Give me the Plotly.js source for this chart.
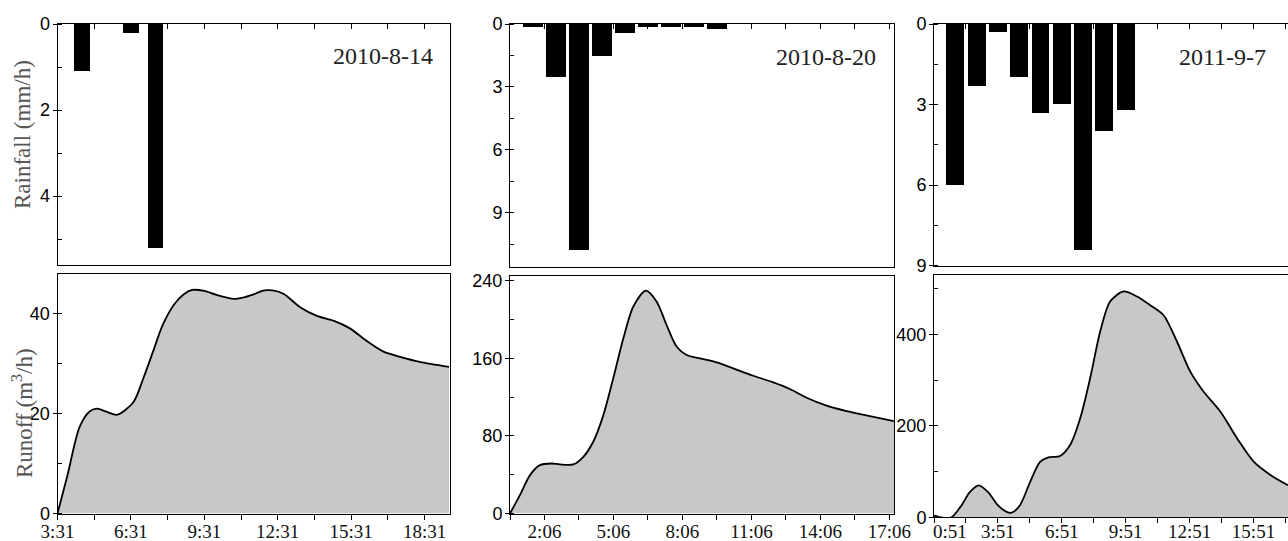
<!DOCTYPE html>
<html><head><meta charset="utf-8">
<script src="https://cdn.plot.ly/plotly-3.0.1.min.js"></script>
<style>html,body{margin:0;padding:0;background:#fff}</style>
</head><body><div id="chart" style="width:1288px;height:541px"></div>
<script>
// Event dates
const events = ['2010-8-14', '2010-8-20', '2011-9-7'];

// Rainfall intensity (mm/h), time in hours after the first tick of each panel
const rainT1 = [1, 3, 4];
const rain1  = [1.1, 0.2, 5.2];
const rainT2 = [1, 2, 3, 4, 5, 6, 7, 8, 9];
const rain2  = [0.13, 2.52, 10.77, 1.52, 0.45, 0.13, 0.13, 0.13, 0.26];
const rainT3 = [1, 2, 3, 4, 5, 6, 7, 8, 9];
const rain3  = [6.0, 2.3, 0.29, 1.98, 3.3, 2.99, 8.43, 4.0, 3.2];

// Runoff (m3/h)
const runT1 = [0, 0.4, 0.9, 1.3, 1.6, 2.0, 2.45, 3.1, 3.5, 3.9, 4.3, 4.75, 5.15, 5.5, 6.0, 6.5, 7.2, 7.6, 8.0, 8.45, 8.8, 9.25, 9.9, 10.6, 11.3, 11.95, 12.6, 13.3, 14.0, 14.8, 16.0];
const run1  = [0, 7.5, 17.3, 20.4, 21.0, 20.4, 19.8, 22.3, 27.0, 32.4, 37.8, 41.8, 43.9, 44.8, 44.6, 43.8, 43.0, 43.3, 43.9, 44.7, 44.7, 44.0, 41.4, 39.6, 38.6, 37.1, 34.7, 32.5, 31.4, 30.4, 29.4];
const runT2 = [0, 0.43, 0.87, 1.3, 1.81, 2.17, 2.75, 3.19, 3.62, 4.06, 4.49, 4.93, 5.36, 5.91, 6.38, 6.81, 7.25, 7.68, 8.26, 8.99, 9.71, 10.58, 11.45, 12.17, 12.9, 13.77, 14.64, 15.65, 16.7];
const run2  = [0, 18.9, 39.6, 49.9, 51.6, 50.6, 50.6, 58.5, 74, 101.5, 139.4, 180.7, 213.3, 229.9, 218.5, 194.4, 172, 163.5, 160, 155.9, 149.7, 142.1, 135.2, 128.4, 119.4, 111.2, 105.6, 100.5, 95.3];
const runT3 = [0, 0.3, 0.82, 1.29, 1.68, 2.1, 2.54, 3.01, 3.41, 3.64, 4.03, 4.51, 4.98, 5.37, 5.92, 6.39, 6.86, 7.33, 7.8, 8.27, 8.9, 9.53, 10.15, 10.78, 11.41, 12.04, 12.67, 13.45, 14.24, 15.02, 15.81, 16.62];
const run3  = [4, 0, 0, 26, 55, 70, 55, 26, 12, 10, 26, 77, 121, 131, 134, 158, 216, 304, 406, 472, 494, 483, 464, 442, 384, 318, 274, 231, 172, 121, 92, 70];

// Tick labels
const xTickPos1 = [0, 3, 6, 9, 12, 15];
const xLabels1  = ['3:31', '6:31', '9:31', '12:31', '15:31', '18:31'];
const xTickPos2 = [1.5, 4.5, 7.5, 10.5, 13.5, 16.5];
const xLabels2  = ['2:06', '5:06', '8:06', '11:06', '14:06', '17:06'];
const xTickPos3 = [0, 3, 6, 9, 12, 15];
const xLabels3  = ['0:51', '3:51', '6:51', '9:51', '12:51', '15:51'];

const W = 1288, H = 541;
const xd = (a, b) => [a / W, b / W];
const yd = (top, bot) => [1 - bot / H, 1 - top / H];

const SERIF = 'Liberation Serif, Times New Roman, serif';
const SANS = 'Liberation Sans, Arial, sans-serif';
const yTickFont = {family: SANS, size: 18, color: '#000'};
const xTickFont = {family: SERIF, size: 19, color: '#111'};

function barTrace(x, y, n, w) {
  return {type: 'bar', x: x, y: y, xaxis: 'x' + (n === 1 ? '' : n), yaxis: 'y' + (n === 1 ? '' : n),
          width: w, marker: {color: '#000', line: {width: 0}}, hoverinfo: 'x+y'};
}
function runTrace(x, y, n) {
  return {type: 'scatter', mode: 'lines', x: x, y: y, xaxis: 'x' + n, yaxis: 'y' + n,
          line: {color: '#000', width: 1.8, shape: 'spline', smoothing: 0.8},
          fill: 'tozeroy', fillcolor: '#c8c8c8'};
}

const data = [
  barTrace(rainT1, rain1, 1, 0.63),
  barTrace(rainT2, rain2, 2, 0.84),
  barTrace(rainT3, rain3, 3, 0.84),
  runTrace(runT1, run1, 4),
  runTrace(runT2, run2, 5),
  runTrace(runT3, run3, 6)
];

function topX(dom, range, anchor) {
  return {domain: dom, range: range, anchor: anchor, side: 'top', showgrid: false, zeroline: false,
          showline: true, linecolor: '#000', linewidth: 1, mirror: true,
          ticks: 'inside', ticklen: 5, tickcolor: '#000', tick0: 0, dtick: 1.5, showticklabels: false};
}
function topY(dom, range, dtick, minorDtick, anchor, mirror) {
  return {domain: dom, range: range, anchor: anchor, showgrid: false, zeroline: false,
          showline: true, linecolor: '#000', linewidth: 1, mirror: mirror,
          ticks: 'outside', ticklen: 4, tickcolor: '#000', tick0: 0, dtick: dtick,
          tickfont: yTickFont, ticklabelstandoff: -1,
          minor: {ticks: 'inside', ticklen: 4, tickcolor: '#000', tick0: 0, dtick: minorDtick, showgrid: false}};
}
function botX(dom, range, anchor, pos, labels, minor0, standoff) {
  return {domain: dom, range: range, anchor: anchor, showgrid: false, zeroline: false,
          showline: true, linecolor: '#000', linewidth: 1, mirror: true,
          ticks: 'outside', ticklen: 5, tickcolor: '#000',
          tickmode: 'array', tickvals: pos, ticktext: labels, tickfont: xTickFont,
          ticklabelstandoff: standoff,
          minor: {ticks: 'outside', ticklen: 5, tickcolor: '#000', tick0: minor0, dtick: 3, showgrid: false}};
}
function botY(dom, range, dtick, anchor, mirror) {
  return {domain: dom, range: range, anchor: anchor, showgrid: false, zeroline: false,
          showline: true, linecolor: '#000', linewidth: 1, mirror: mirror,
          ticks: 'outside', ticklen: 4, tickcolor: '#000', tick0: 0, dtick: dtick,
          tickfont: yTickFont, ticklabelstandoff: -1,
          minor: {ticks: 'inside', ticklen: 4, tickcolor: '#000', tick0: 0, dtick: dtick / 2, showgrid: false}};
}

const xLabels3Shown = xLabels3.map((t, i) => i === 0 ? '' : t);

const layout = {
  width: W, height: H,
  margin: {l: 0, r: 0, t: 0, b: 0},
  paper_bgcolor: '#fff', plot_bgcolor: '#fff',
  showlegend: false,
  bargap: 0,
  xaxis:  topX(xd(57.5, 449.5), [0, 16.02], 'y'),
  yaxis:  topY(yd(24, 265), [5.6, 0], 2, 1, 'x', true),
  xaxis2: topX(xd(510, 894), [0, 16.7], 'y2'),
  yaxis2: topY(yd(24, 266.5), [11.55, 0], 3, 1.5, 'x2', true),
  xaxis3: topX(xd(934, 1288), [0, 16.62], 'y3'),
  yaxis3: topY(yd(24, 265.5), [9, 0], 3, 1.5, 'x3', false),
  xaxis4: botX(xd(57.5, 449.5), [0, 16.02], 'y4', xTickPos1, xLabels1, 1.5, -4),
  yaxis4: botY(yd(274, 513.5), [0, 48], 20, 'x4', true),
  xaxis5: botX(xd(510, 894), [0, 16.7], 'y5', xTickPos2, xLabels2, 0, -4),
  yaxis5: botY(yd(276, 513.5), [0, 245], 80, 'x5', true),
  xaxis6: botX(xd(934, 1288), [0, 16.62], 'y6', xTickPos3, xLabels3Shown, 1.5, -8),
  yaxis6: botY(yd(275, 517.3), [0, 530], 200, 'x6', false),
  annotations: [
    {text: events[0], xref: 'paper', yref: 'paper', x: 383 / W, y: 1 - 56 / H, showarrow: false,
     font: {family: SERIF, size: 24, color: '#222'}, xanchor: 'center', yanchor: 'middle'},
    {text: events[1], xref: 'paper', yref: 'paper', x: 826 / W, y: 1 - 57 / H, showarrow: false,
     font: {family: SERIF, size: 24, color: '#222'}, xanchor: 'center', yanchor: 'middle'},
    {text: events[2], xref: 'paper', yref: 'paper', x: 1222 / W, y: 1 - 57 / H, showarrow: false,
     font: {family: SERIF, size: 24, color: '#222'}, xanchor: 'center', yanchor: 'middle'},
    {text: 'Rainfall (mm/h)', xref: 'paper', yref: 'paper', x: 22 / W, y: 1 - 135 / H, showarrow: false,
     textangle: -90, font: {family: SERIF, size: 23, color: '#555'}, xanchor: 'center', yanchor: 'middle'},
    {text: 'Runoff (m<sup>3</sup>/h)', xref: 'paper', yref: 'paper', x: 22 / W, y: 1 - 413 / H, showarrow: false,
     textangle: -90, font: {family: SERIF, size: 23, color: '#555'}, xanchor: 'center', yanchor: 'middle'},
    {text: xLabels3[0], xref: 'x6', yref: 'paper', x: xTickPos3[0], y: 1 - 531 / H, xshift: 16, showarrow: false,
     font: xTickFont, xanchor: 'center', yanchor: 'middle'}
  ]
};

Plotly.newPlot('chart', data, layout, {staticPlot: true, displayModeBar: false});
</script>
</body></html>
